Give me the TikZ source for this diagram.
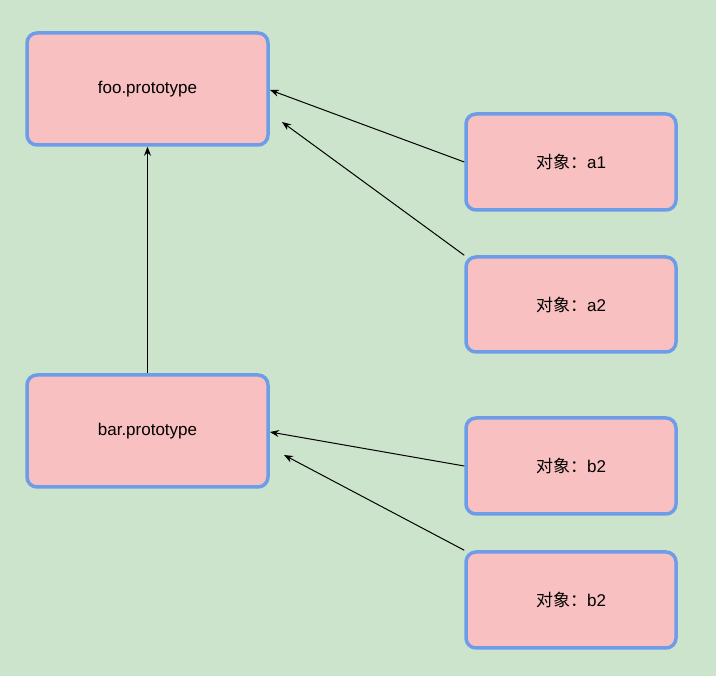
\documentclass[tikz,border=0pt]{standalone}
\usepackage{fontspec}
\setmainfont{Liberation Sans}
\newfontfamily\cjk{Noto Sans CJK SC}
\begin{document}
\begin{tikzpicture}[x=1pt,y=-1pt,
  box/.style={draw=blue!50!cyan!60!white,line width=3.5pt,fill=red!25,rounded corners=10pt,font=\fontsize{17}{20}\selectfont},
  conn/.style={-{Stealth[length=9pt,width=7pt]},line width=1pt},
  every node/.style={inner sep=0pt}]
\usetikzlibrary{arrows.meta}
\fill[green!50!black!20!white,fill={rgb,255:red,204;green,228;blue,203}] (0,0) rectangle (716,676);
\useasboundingbox (0,0) rectangle (716,676);
\tikzset{box/.append style={draw={rgb,255:red,109;green,156;blue,232},fill={rgb,255:red,248;green,192;blue,192}}}
\node[box,minimum width=241pt,minimum height=112pt] (foo) at (147.5,89) {foo.prototype};
\node[box,minimum width=241pt,minimum height=112pt] (bar) at (147.5,431) {bar.prototype};
\node[box,minimum width=210pt,minimum height=96pt] (a1) at (571,162) {{\cjk 对象：}a1};
\node[box,minimum width=210pt,minimum height=95pt] (a2) at (571,304.5) {{\cjk 对象：}a2};
\node[box,minimum width=210pt,minimum height=96pt] (b1) at (571,466) {{\cjk 对象：}b2};
\node[box,minimum width=210pt,minimum height=96pt] (b2) at (571,600) {{\cjk 对象：}b2};
\coordinate (fa) at (270,90); \coordinate (fb) at (282,122);
\coordinate (ba) at (270,432); \coordinate (bb) at (284,455);
\draw[conn] (a1.west) -- (fa);
\draw[conn] (a2.north west) ++(0,0) -- (fb);
\draw[conn] (bar.north) -- (foo.south);
\draw[conn] (b1.west) -- (ba);
\draw[conn] (b2.north west) -- (bb);
\end{tikzpicture}
\end{document}
